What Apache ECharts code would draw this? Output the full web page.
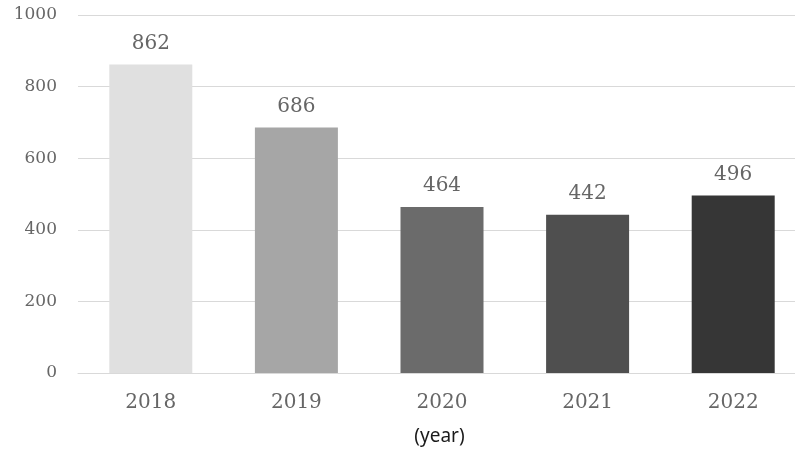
<!DOCTYPE html>
<html><head><meta charset="utf-8">
<script src="https://cdn.jsdelivr.net/npm/echarts@6/dist/echarts.min.js"></script>
<style>html,body{margin:0;padding:0;background:#fff}#c{width:795px;height:456px}</style>
</head><body><div id="c"></div>
<script>
const categories = ['2018','2019','2020','2021','2022'];
const values = [862, 686, 464, 442, 496];
const barColors = ['#e0e0e0','#a6a6a6','#6b6b6b','#4f4f4f','#363636'];
const yTicks = [0, 200, 400, 600, 800, 1000];

const chart = echarts.init(document.getElementById('c'));
const serif = '"DejaVu Serif", serif';
chart.setOption({
  animation: false,
  grid: { left: 78, top: 15, bottom: 83, width: 728, outerBoundsMode: 'none', containLabel: false },
  xAxis: {
    type: 'category', data: categories,
    axisLine: { lineStyle: { color: '#d9d9d9' } },
    axisTick: { show: false },
    axisLabel: { color: '#666', fontSize: 20, fontFamily: serif, margin: 20 },
    name: '(year)', nameLocation: 'middle', nameGap: 54,
    nameTextStyle: { color: '#1a1a1a', fontSize: 19, fontFamily: '"Noto Sans", sans-serif', padding: [0, 5, 0, 0] }
  },
  yAxis: {
    type: 'value', min: yTicks[0], max: yTicks[yTicks.length-1], interval: 200,
    axisLine: { show: false }, axisTick: { show: false },
    splitLine: { lineStyle: { color: '#d9d9d9' } },
    axisLabel: { color: '#666', fontSize: 17, fontFamily: serif, margin: 21, formatter: v => String(v) }
  },
  series: [{
    type: 'bar', barWidth: 83,
    data: values.map((v, i) => ({ value: v, itemStyle: { color: barColors[i] } })),
    label: { show: true, position: 'top', distance: 11, color: '#666', fontSize: 20, fontFamily: serif }
  }]
});
</script></body></html>
